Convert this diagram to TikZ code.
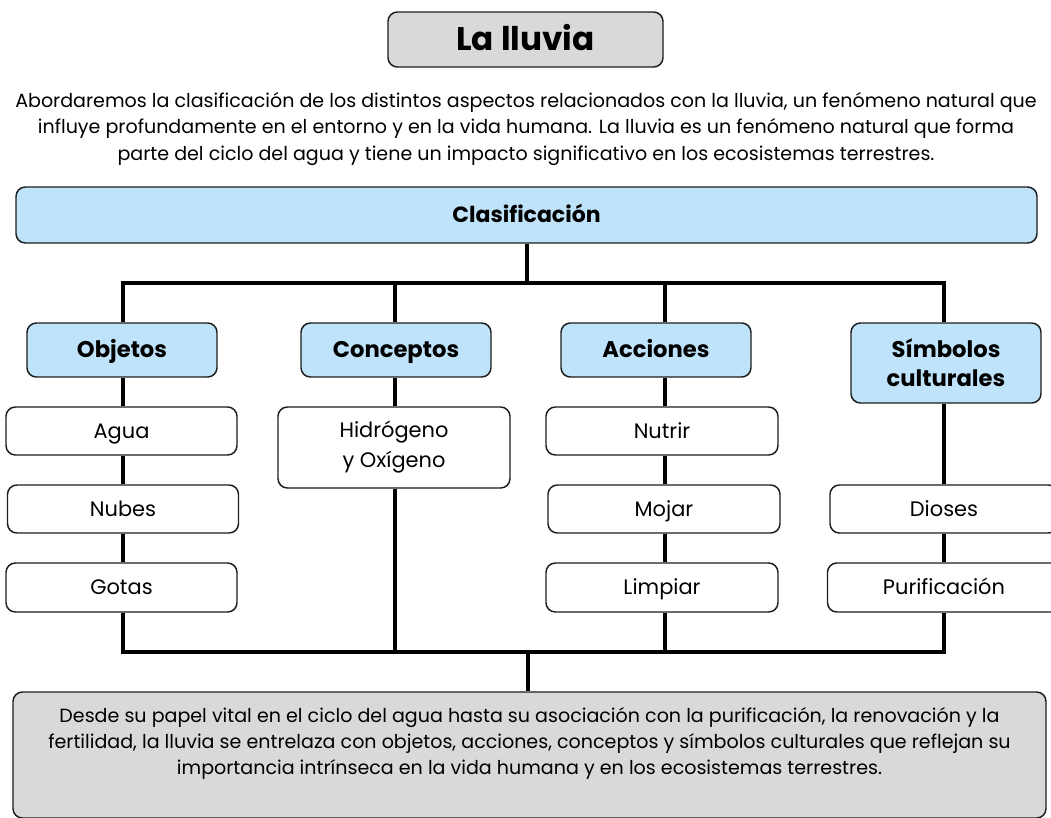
\documentclass[tikz,border=0pt]{standalone}
\usepackage{fontspec}
\setmainfont{Poppins}
\usetikzlibrary{calc}
\newdimen\pxu \pxu=0.75pt
\definecolor{boxblue}{HTML}{BEE3FA}
\definecolor{boxgray}{HTML}{D9D9D9}
\definecolor{edge}{HTML}{1E1E1E}
\begin{document}
\begin{tikzpicture}[x=0.75pt,y=-0.75pt,
  box/.style={draw=edge,line width=1.1pt,rounded corners=7pt,inner sep=0pt,align=center},
  leaf/.style={box,fill=white,font=\fontsize{15.7}{22.5}\selectfont},
  cat/.style={box,fill=boxblue,font=\fontsize{17}{22}\selectfont\bfseries},
  leafline/.style={text height=11pt,text depth=0pt},
  catline/.style={text height=11.8pt,text depth=0pt},
  conn/.style={draw=black,line width=2.3pt}]
\fill[white] (0,0) rectangle (1051,818);
\clip (0,0) rectangle (1051,818);
% title
\node[box,fill=boxgray,minimum width=275\pxu,minimum height=55\pxu,font=\fontsize{24.5}{30}\selectfont\bfseries,text height=17pt,text depth=0pt] (title) at (525.5,39.5) {La lluvia};
\node[align=center,inner sep=0pt,font=\fontsize{14.3}{19.9}\selectfont] (intro) at (526,129) {Abordaremos la clasificación de los distintos aspectos relacionados con la lluvia, un fenómeno natural que\\influye profundamente en el entorno y en la vida humana. La lluvia es un fenómeno natural que forma\\parte del ciclo del agua y tiene un impacto significativo en los ecosistemas terrestres.};
% classification
\node[cat,minimum width=1021\pxu,minimum height=56\pxu,font=\fontsize{16.5}{22}\selectfont\bfseries,text height=11.5pt,text depth=0pt] (clas) at (526.5,215) {Clasificación};
% categories
\node[cat,minimum width=190\pxu,minimum height=54\pxu,catline] (obj) at (122,350) {Objetos};
\node[cat,minimum width=190\pxu,minimum height=54\pxu,catline] (con) at (396,350) {Conceptos};
\node[cat,minimum width=190\pxu,minimum height=54\pxu,catline] (acc) at (656,350) {Acciones};
\node[cat,minimum width=190\pxu,minimum height=80\pxu] (sym) at (946,363) {Símbolos\\culturales};
% leaves
\node[leaf,minimum width=231\pxu,minimum height=48\pxu,leafline] (agua) at (121.5,431) {Agua};
\node[leaf,minimum width=231\pxu,minimum height=48\pxu,leafline] (nubes) at (123,509) {Nubes};
\node[leaf,minimum width=231\pxu,minimum height=49\pxu,leafline] (gotas) at (121.5,587.5) {Gotas};
\node[leaf,minimum width=232\pxu,minimum height=81\pxu] (hid) at (394,447.5) {Hidrógeno\\y Oxígeno};
\node[leaf,minimum width=232\pxu,minimum height=48\pxu,leafline] (nutrir) at (662,431) {Nutrir};
\node[leaf,minimum width=232\pxu,minimum height=48\pxu,leafline] (mojar) at (664,509) {Mojar};
\node[leaf,minimum width=232\pxu,minimum height=49\pxu,leafline] (limpiar) at (662,587.5) {Limpiar};
\node[leaf,minimum width=228\pxu,minimum height=48\pxu,leafline] (dioses) at (944,509) {Dioses};
\node[leaf,minimum width=233\pxu,minimum height=49\pxu,leafline] (puri) at (944,587.5) {Purificación};
% summary
\node[box,fill=boxgray,minimum width=1033\pxu,minimum height=126\pxu] (summ) at (529.5,755) {};
\node[align=center,inner sep=0pt,font=\fontsize{14.3}{19.5}\selectfont] (summtxt) at (529.5,743) {Desde su papel vital en el ciclo del agua hasta su asociación con la purificación, la renovación y la\\fertilidad, la lluvia se entrelaza con objetos, acciones, conceptos y símbolos culturales que reflejan su\\importancia intrínseca en la vida humana y en los ecosistemas terrestres.};
% line positions
\coordinate (xO) at (123,0);
\coordinate (xK) at (395,0);
\coordinate (xA) at (665,0);
\coordinate (xS) at (944,0);
\coordinate (busT) at (527,283);
\coordinate (busB) at (528,652);
% connectors
\draw[conn] (clas.south -| busT) -- (busT);
\draw[conn] (obj.north -| xO) |- (busT);
\draw[conn] (con.north -| xK) |- (busT);
\draw[conn] (acc.north -| xA) |- (busT);
\draw[conn] (sym.north -| xS) |- (busT);
\draw[conn] (obj.south -| xO) -- (agua.north -| xO);
\draw[conn] (agua.south -| xO) -- (nubes.north -| xO);
\draw[conn] (nubes.south -| xO) -- (gotas.north -| xO);
\draw[conn] (con.south -| xK) -- (hid.north -| xK);
\draw[conn] (acc.south -| xA) -- (nutrir.north -| xA);
\draw[conn] (nutrir.south -| xA) -- (mojar.north -| xA);
\draw[conn] (mojar.south -| xA) -- (limpiar.north -| xA);
\draw[conn] (sym.south -| xS) -- (dioses.north -| xS);
\draw[conn] (dioses.south -| xS) -- (puri.north -| xS);
\draw[conn] (gotas.south -| xO) |- (busB);
\draw[conn] (hid.south -| xK) |- (busB);
\draw[conn] (limpiar.south -| xA) |- (busB);
\draw[conn] (puri.south -| xS) |- (busB);
\draw[conn] (busB) -- (summ.north -| busB);
\end{tikzpicture}
\end{document}
